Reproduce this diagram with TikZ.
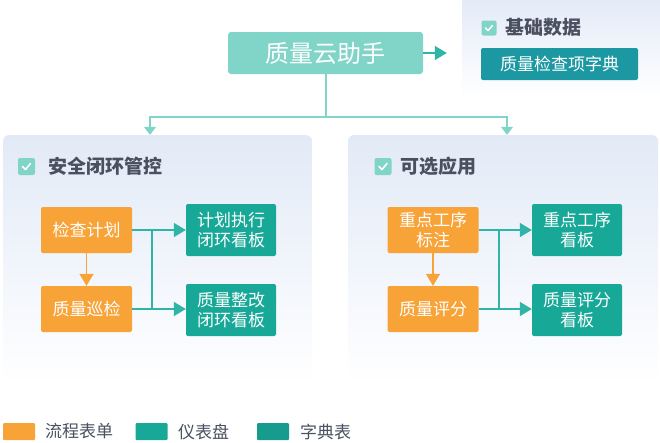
\documentclass[tikz,border=0pt]{standalone}
\usepackage{fontspec}
\setmainfont{Noto Sans CJK SC}
\usetikzlibrary{arrows.meta}
\definecolor{qcorange}{RGB}{248,163,56}
\definecolor{qcteal}{RGB}{24,168,152}
\definecolor{qclight}{RGB}{128,212,200}
\definecolor{qcdict}{RGB}{27,152,162}
\definecolor{qcpanel}{RGB}{226,234,247}
\definecolor{qctext}{RGB}{74,80,96}
\definecolor{qcline}{RGB}{47,181,165}

\begin{document}
\begin{tikzpicture}[x=1pt,y=-1pt]
    % Define styles
    \tikzstyle{panel} = [rounded corners=6pt, top color=qcpanel, bottom color=white, inner sep=0pt]
    \tikzstyle{flow} = [rounded corners=2pt, fill=qcorange, text=white, minimum width=91pt, minimum height=46pt, inner sep=0pt, align=center, font=\fontsize{17}{20}\selectfont]
    \tikzstyle{board} = [rounded corners=2pt, fill=qcteal, text=white, minimum width=90pt, minimum height=52pt, inner sep=0pt, align=center, font=\fontsize{17}{20}\selectfont]
    \tikzstyle{checkbox} = [rounded corners=2pt, fill=qclight, minimum size=17pt, inner sep=0pt]
    \tikzstyle{tick} = [white, line width=1.6pt, line cap=round, line join=round]
    \tikzstyle{title} = [anchor=west, text=qctext, inner sep=0pt, font=\fontsize{19}{22}\selectfont\bfseries]
    \tikzstyle{swatch} = [rounded corners=1pt, minimum width=32pt, minimum height=17pt, inner sep=0pt]
    \tikzstyle{legend} = [anchor=west, text=qctext, inner sep=0pt, font=\fontsize{17}{20}\selectfont]
    \tikzstyle{arrow} = [qcline, line width=1.4pt, -{Triangle[length=12pt,width=14pt]}]
    \tikzstyle{link} = [qcline, line width=1.4pt]
    \tikzstyle{down} = [qcorange, line width=1.6pt, -{Triangle[length=12pt,width=14pt]}]

    \useasboundingbox (0,0) rectangle (660,442);

    % Panels
    \node (base) [panel, minimum width=210pt, minimum height=104pt] at (567,46) {};
    \node (safe) [panel, minimum width=309pt, minimum height=250pt] at (157.5,260) {};
    \node (extra) [panel, minimum width=310pt, minimum height=250pt] at (503,260) {};

    % Top node
    \node (cloud) [rounded corners=3pt, fill=qclight, text=white, minimum width=195pt, minimum height=42pt, inner sep=0pt, font=\fontsize{24}{28}\selectfont] at (325.5,53) {质量云助手};

    % Base data
    \node (chk0) [checkbox, minimum size=15pt] at (489,28) {};
    \draw [tick] ([shift={(-3.5,0)}]chk0.center) -- ++(2.5,2.5) -- ++(4.5,-5);
    \node (basetitle) [title] at (505,27) {基础数据};
    \node (dict) [rounded corners=2pt, fill=qcdict, text=white, minimum width=157pt, minimum height=32pt, inner sep=0pt, font=\fontsize{17}{20}\selectfont] at (559.5,64) {质量检查项字典};

    % Safety loop
    \node (chk1) [checkbox] at (26.5,166.5) {};
    \draw [tick] ([shift={(-4,0)}]chk1.center) -- ++(3,3) -- ++(5,-6);
    \node (safetitle) [title] at (48,166) {安全闭环管控};
    \node (plan) [flow] at (86.5,230) {检查计划};
    \node (patrol) [flow] at (86.5,309) {质量巡检};
    \node (planboard) [board] at (231,230) {计划执行\\闭环看板};
    \node (fixboard) [board] at (231,310) {质量整改\\闭环看板};

    % Optional apps
    \node (chk2) [checkbox] at (383,166.5) {};
    \draw [tick] ([shift={(-4,0)}]chk2.center) -- ++(3,3) -- ++(5,-6);
    \node (extratitle) [title] at (400,166) {可选应用};
    \node (mark) [flow] at (433,230) {重点工序\\标注};
    \node (score) [flow] at (433,309) {质量评分};
    \node (markboard) [board] at (577,230) {重点工序\\看板};
    \node (scoreboard) [board] at (577,310) {质量评分\\看板};

    % Top connectors
    \coordinate (split) at (326,117);
    \draw [link, qclight] (cloud.south -| split) -- (split);
    \draw [arrow, qclight, -{Triangle[length=8pt,width=12pt]}] (split) -| ([xshift=-7.5pt]safe.north);
    \draw [arrow, qclight, -{Triangle[length=8pt,width=12pt]}] (split) -| ([xshift=4pt]extra.north);
    \draw [arrow, shorten >=15pt] (cloud.east) -- (cloud.east -| base.west);

    % Panel connectors
    \draw [down] (plan) -- (patrol);
    \draw [arrow] (plan.east) -- (planboard.west |- plan.east);
    \draw [arrow] (patrol.east) -- (fixboard.west |- patrol.east);
    \draw [link] (152,230) -- (152,309);
    \draw [down] (mark) -- (score);
    \draw [arrow] (mark.east) -- (markboard.west |- mark.east);
    \draw [arrow] (score.east) -- (scoreboard.west |- score.east);
    \draw [link] (499,230) -- (499,309);

    % Legend
    \node (sw1) [swatch, fill=qcorange] at (19,431.5) {};
    \node (lg1) [legend] at (45,431.5) {流程表单};
    \node (sw2) [swatch, fill=qcteal] at (151.5,431.5) {};
    \node (lg2) [legend] at (178,431.5) {仪表盘};
    \node (sw3) [swatch, fill=qcteal!92!black] at (273,431.5) {};
    \node (lg3) [legend] at (300,431.5) {字典表};
\end{tikzpicture}
\end{document}
